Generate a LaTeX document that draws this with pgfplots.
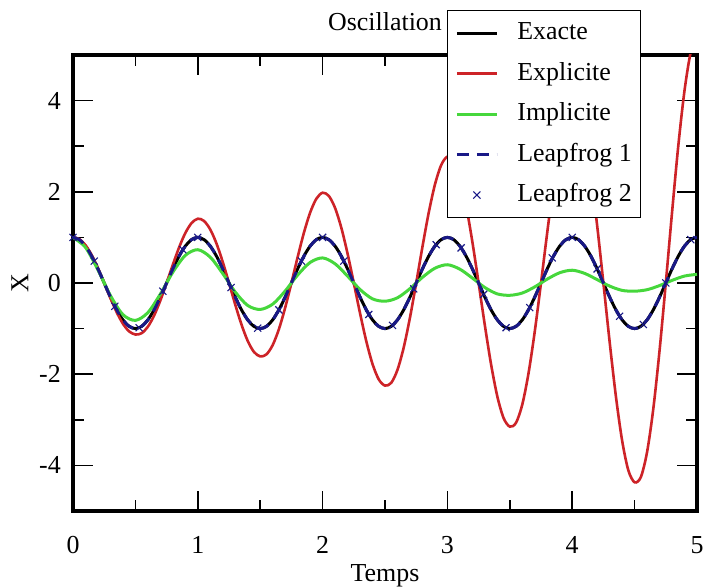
\documentclass[border=0pt]{standalone}
\usepackage{fontspec}
\setmainfont{Liberation Serif}
\usepackage{pgfplots}
\pgfplotsset{compat=1.18}
\definecolor{cred}{RGB}{205,35,40}
\definecolor{cgreen}{RGB}{70,215,60}
\definecolor{cblue}{RGB}{25,25,135}
\pgfplotsset{
  lineleg/.style={legend image code/.code={\draw[##1] (0bp,0bp) -- (40bp,0bp);}},
  markleg/.style={legend image code/.code={\draw[##1] plot coordinates {(20bp,0bp)};}},
}
\begin{document}
\begin{tikzpicture}
\begin{axis}[
  scale only axis, width=624bp, height=456bp,
  xmin=0, xmax=5, ymin=-5, ymax=5,
  xtick={0,1,2,3,4,5}, xticklabels={0,1,2,3,4,5},
  minor xtick={0.5,1.5,2.5,3.5,4.5},
  ytick={-4,-2,0,2,4}, yticklabels={-4,-2,0,2,4},
  minor ytick={-3,-1,1,3},
  tick align=inside,
  major tick length=20bp, minor tick length=11bp,
  every tick/.style={black, line width=1.5bp},
  axis line style={line width=3.5bp},
  ticklabel style={font=\fontsize{26}{30}\selectfont, inner sep=0pt},
  xticklabel style={anchor=base, yshift=-43bp},
  yticklabel style={anchor=east, xshift=-12bp},
  title=Oscillation,
  title style={at={(axis description cs:0.5,1)}, anchor=base, yshift=19bp, font=\fontsize{26}{30}\selectfont, inner sep=0pt},
  xlabel=Temps,
  xlabel style={at={(axis description cs:0.5,0)}, anchor=base, yshift=-71bp, font=\fontsize{26}{30}\selectfont, inner sep=0pt},
  ylabel=X,
  ylabel style={at={(axis description cs:-0.085,0.5)}, anchor=center, font=\fontsize{26}{30}\selectfont, inner sep=0pt},
  legend style={at={(axis description cs:0.599,1.0987)}, anchor=north west, draw=black, line width=1.2bp, fill=white,
    font=\fontsize{26}{30}\selectfont, inner xsep=8bp, inner ysep=10bp, row sep=15.5bp,
    /tikz/every odd column/.append style={column sep=18bp},
    nodes={inner sep=1bp, text height=18bp, text depth=5bp}},
  legend cell align=left,
  lineleg,
]
\coordinate (ll) at (rel axis cs:0,0);
\coordinate (ur) at (rel axis cs:1,1);
% Exacte
\addplot[black, line width=3bp, smooth] coordinates {
(0,1)(0.05,0.9511)(0.1,0.809)(0.15,0.5878)(0.2,0.309)(0.25,0)(0.3,-0.309)(0.35,-0.5878)(0.4,-0.809)(0.45,-0.9511)
(0.5,-1)(0.55,-0.9511)(0.6,-0.809)(0.65,-0.5878)(0.7,-0.309)(0.75,0)(0.8,0.309)(0.85,0.5878)(0.9,0.809)(0.95,0.9511)
(1,1)(1.05,0.9511)(1.1,0.809)(1.15,0.5878)(1.2,0.309)(1.25,0)(1.3,-0.309)(1.35,-0.5878)(1.4,-0.809)(1.45,-0.9511)
(1.5,-1)(1.55,-0.9511)(1.6,-0.809)(1.65,-0.5878)(1.7,-0.309)(1.75,0)(1.8,0.309)(1.85,0.5878)(1.9,0.809)(1.95,0.9511)
(2,1)(2.05,0.9511)(2.1,0.809)(2.15,0.5878)(2.2,0.309)(2.25,0)(2.3,-0.309)(2.35,-0.5878)(2.4,-0.809)(2.45,-0.9511)
(2.5,-1)(2.55,-0.9511)(2.6,-0.809)(2.65,-0.5878)(2.7,-0.309)(2.75,0)(2.8,0.309)(2.85,0.5878)(2.9,0.809)(2.95,0.9511)
(3,1)(3.05,0.9511)(3.1,0.809)(3.15,0.5878)(3.2,0.309)(3.25,0)(3.3,-0.309)(3.35,-0.5878)(3.4,-0.809)(3.45,-0.9511)
(3.5,-1)(3.55,-0.9511)(3.6,-0.809)(3.65,-0.5878)(3.7,-0.309)(3.75,0)(3.8,0.309)(3.85,0.5878)(3.9,0.809)(3.95,0.9511)
(4,1)(4.05,0.9511)(4.1,0.809)(4.15,0.5878)(4.2,0.309)(4.25,0)(4.3,-0.309)(4.35,-0.5878)(4.4,-0.809)(4.45,-0.9511)
(4.5,-1)(4.55,-0.9511)(4.6,-0.809)(4.65,-0.5878)(4.7,-0.309)(4.75,0)(4.8,0.309)(4.85,0.5878)(4.9,0.809)(4.95,0.9511)
(5,1)};
\addlegendentry{Exacte}
% Explicite
\addplot[cred, line width=2.6bp, smooth] coordinates {
(0,1.000)(0.05,0.963)(0.1,0.830)(0.15,0.611)(0.2,0.325)(0.25,0)(0.3,-0.333)(0.35,-0.641)(0.4,-0.893)(0.45,-1.062)(0.5,-1.130)
(0.55,-1.101)(0.6,-0.959)(0.65,-0.714)(0.7,-0.384)(0.75,0)(0.8,0.401)(0.85,0.779)(0.9,1.095)(0.95,1.314)(1.0,1.410)
(1.05,1.360)(1.1,1.173)(1.15,0.864)(1.2,0.460)(1.25,0)(1.3,-0.473)(1.35,-0.911)(1.4,-1.270)(1.45,-1.512)(1.5,-1.610)
(1.55,-1.566)(1.6,-1.362)(1.65,-1.012)(1.7,-0.543)(1.75,0)(1.8,0.566)(1.85,1.099)(1.9,1.542)(1.95,1.848)(2.0,1.980)
(2.05,1.909)(2.1,1.646)(2.15,1.211)(2.2,0.645)(2.25,0)(2.3,-0.662)(2.35,-1.275)(2.4,-1.777)(2.45,-2.114)(2.5,-2.250)
(2.55,-2.189)(2.6,-1.904)(2.65,-1.414)(2.7,-0.760)(2.75,0)(2.8,0.792)(2.85,1.537)(2.9,2.157)(2.95,2.585)(3.0,2.770)
(3.05,2.671)(3.1,2.302)(3.15,1.695)(3.2,0.903)(3.25,0)(3.3,-0.926)(3.35,-1.785)(3.4,-2.487)(3.45,-2.960)(3.5,-3.150)
(3.55,-3.065)(3.6,-2.666)(3.65,-1.980)(3.7,-1.064)(3.75,0)(3.8,1.109)(3.85,2.152)(3.9,3.021)(3.95,3.621)(4.0,3.880)
(4.05,3.737)(4.1,3.218)(4.15,2.367)(4.2,1.259)(4.25,0)(4.3,-1.290)(4.35,-2.482)(4.4,-3.456)(4.45,-4.110)(4.5,-4.370)
(4.55,-4.257)(4.6,-3.707)(4.65,-2.756)(4.7,-1.481)(4.75,0)(4.8,1.547)(4.85,3.005)(4.9,4.221)(4.95,5.064)(5.0,5.430)};
\addlegendentry{Explicite}
% Implicite
\addplot[cgreen, line width=3bp, smooth] coordinates {
(0,1)(0.1,0.780)(0.2,0.287)(0.3,-0.276)(0.4,-0.693)(0.5,-0.82)(0.6,-0.649)(0.7,-0.242)(0.8,0.237)(0.9,0.605)
(1.0,0.73)(1.1,0.566)(1.2,0.207)(1.3,-0.198)(1.4,-0.493)(1.5,-0.58)(1.6,-0.464)(1.7,-0.176)(1.8,0.174)(1.9,0.450)
(2.0,0.55)(2.1,0.421)(2.2,0.151)(2.3,-0.142)(2.4,-0.348)(2.5,-0.40)(2.6,-0.324)(2.7,-0.124)(2.8,0.124)(2.9,0.324)
(3.0,0.40)(3.1,0.303)(3.2,0.108)(3.3,-0.099)(3.4,-0.239)(3.5,-0.27)(3.6,-0.220)(3.7,-0.085)(3.8,0.085)(3.9,0.225)
(4.0,0.28)(4.1,0.210)(4.2,0.074)(4.3,-0.068)(4.4,-0.162)(4.5,-0.18)(4.6,-0.147)(4.7,-0.057)(4.8,0.057)(4.9,0.152)
(5.0,0.19)};
\addlegendentry{Implicite}
% Leapfrog 1
\addplot[cblue, line width=3bp, dash pattern=on 12bp off 8bp, smooth] coordinates {
(0,1)(0.05,0.9511)(0.1,0.809)(0.15,0.5878)(0.2,0.309)(0.25,0)(0.3,-0.309)(0.35,-0.5878)(0.4,-0.809)(0.45,-0.9511)
(0.5,-1)(0.55,-0.9511)(0.6,-0.809)(0.65,-0.5878)(0.7,-0.309)(0.75,0)(0.8,0.309)(0.85,0.5878)(0.9,0.809)(0.95,0.9511)
(1,1)(1.05,0.9511)(1.1,0.809)(1.15,0.5878)(1.2,0.309)(1.25,0)(1.3,-0.309)(1.35,-0.5878)(1.4,-0.809)(1.45,-0.9511)
(1.5,-1)(1.55,-0.9511)(1.6,-0.809)(1.65,-0.5878)(1.7,-0.309)(1.75,0)(1.8,0.309)(1.85,0.5878)(1.9,0.809)(1.95,0.9511)
(2,1)(2.05,0.9511)(2.1,0.809)(2.15,0.5878)(2.2,0.309)(2.25,0)(2.3,-0.309)(2.35,-0.5878)(2.4,-0.809)(2.45,-0.9511)
(2.5,-1)(2.55,-0.9511)(2.6,-0.809)(2.65,-0.5878)(2.7,-0.309)(2.75,0)(2.8,0.309)(2.85,0.5878)(2.9,0.809)(2.95,0.9511)
(3,1)(3.05,0.9511)(3.1,0.809)(3.15,0.5878)(3.2,0.309)(3.25,0)(3.3,-0.309)(3.35,-0.5878)(3.4,-0.809)(3.45,-0.9511)
(3.5,-1)(3.55,-0.9511)(3.6,-0.809)(3.65,-0.5878)(3.7,-0.309)(3.75,0)(3.8,0.309)(3.85,0.5878)(3.9,0.809)(3.95,0.9511)
(4,1)(4.05,0.9511)(4.1,0.809)(4.15,0.5878)(4.2,0.309)(4.25,0)(4.3,-0.309)(4.35,-0.5878)(4.4,-0.809)(4.45,-0.9511)
(4.5,-1)(4.55,-0.9511)(4.6,-0.809)(4.65,-0.5878)(4.7,-0.309)(4.75,0)(4.8,0.309)(4.85,0.5878)(4.9,0.809)(4.95,0.9511)
(5,1)};
\addlegendentry{Leapfrog 1}
% Leapfrog 2
\addplot[cblue, only marks, mark=x, mark size=5bp, line width=1.1bp, markleg] coordinates {
(0,1)(0.17,0.48)(0.335,-0.51)(0.53,-0.98)(0.72,-0.18)(0.88,0.73)(1.0,1.0)(1.266,-0.10)(1.48,-0.99)(1.65,-0.59)
(1.83,0.48)(2.0,1.0)(2.17,0.48)(2.37,-0.69)(2.56,-0.93)(2.73,-0.13)(2.91,0.84)(3.11,0.77)(3.29,-0.25)(3.47,-0.98)
(3.66,-0.54)(3.84,0.55)(4.0,1.0)(4.2,0.31)(4.38,-0.73)(4.57,-0.91)(4.75,0.0)(4.95,0.95)};
\addlegendentry{Leapfrog 2}
\end{axis}
\pgfresetboundingbox
\path ([shift={(-73bp,-77bp)}]ll) rectangle ([shift={(8bp,55bp)}]ur);
\end{tikzpicture}
\end{document}
